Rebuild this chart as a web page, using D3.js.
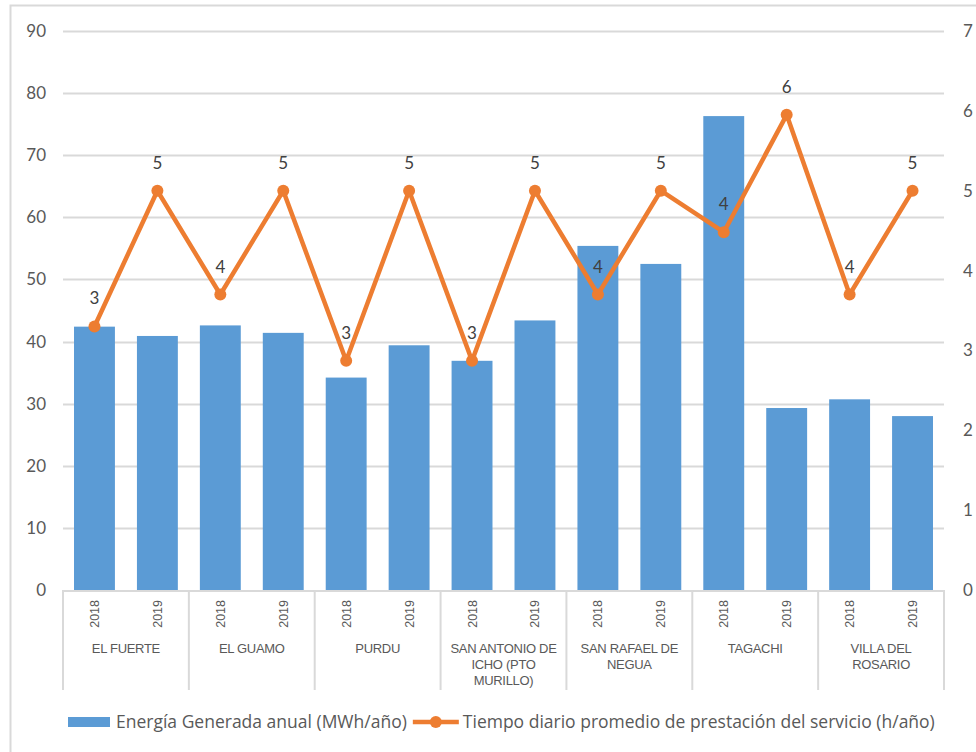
<!DOCTYPE html>
<html>
<head>
<meta charset="utf-8">
<script src="https://cdn.jsdelivr.net/npm/d3@7/dist/d3.min.js"></script>
<style>
  html, body { margin: 0; padding: 0; background: #fff; }
  svg { display: block; }
</style>
</head>
<body>
<svg id="chart" width="976" height="752"></svg>
<script>
// ---- Data ----
const groups = ["EL FUERTE", "EL GUAMO", "PURDU", "SAN ANTONIO DE ICHO (PTO MURILLO)", "SAN RAFAEL DE NEGUA", "TAGACHI", "VILLA DEL ROSARIO"];
const years = ["2018", "2019"];
const energia = [42.4, 40.9, 42.6, 41.4, 34.2, 39.4, 36.9, 43.4, 55.4, 52.5, 76.3, 29.3, 30.7, 28.0];
const tiempo = [3.3, 5.0, 3.7, 5.0, 2.87, 5.0, 2.87, 5.0, 3.7, 5.0, 4.48, 5.95, 3.7, 5.0];
const leftTicks = [0, 10, 20, 30, 40, 50, 60, 70, 80, 90];
const rightTicks = [0, 1, 2, 3, 4, 5, 6, 7];
const seriesNames = ["Energía Generada anual (MWh/año)", "Tiempo diario promedio de prestación del servicio (h/año)"];

// ---- Setup ----
const svg = d3.select("#chart");
const plot = { left: 63, right: 944, top: 31, bottom: 590 };
const BAR = "#5B9BD5", LINE = "#ED7D31", TXT = "#595959", GRID = "#D9D9D9";

const keys = [];
groups.forEach(g => years.forEach(y => keys.push(g + "|" + y)));
const rows = keys.map((k, i) => ({ key: k, group: k.split("|")[0], year: k.split("|")[1], e: energia[i], t: tiempo[i] }));

const x = d3.scaleBand().domain(keys).range([plot.left, plot.right]).paddingInner(0.35).paddingOuter(0.175);
const xg = d3.scaleBand().domain(groups).range([plot.left, plot.right]);
const yL = d3.scaleLinear().domain([0, 90]).range([plot.bottom, plot.top]);
const yR = d3.scaleLinear().domain([0, 7]).range([plot.bottom, plot.top]);

// chart border
svg.append("rect").attr("x", 10.5).attr("y", 5.5).attr("width", 1000).attr("height", 1000)
  .attr("fill", "none").attr("stroke", GRID).attr("stroke-width", 2);

// gridlines
svg.append("g").selectAll("line").data(leftTicks.filter(d => d > 0)).join("line")
  .attr("x1", plot.left).attr("x2", plot.right)
  .attr("y1", d => Math.round(yL(d)) + 0.5).attr("y2", d => Math.round(yL(d)) + 0.5)
  .attr("stroke", GRID).attr("stroke-width", 2);

// left axis labels
const axL = d3.axisLeft(yL).tickValues(leftTicks).tickSize(0).tickPadding(17).tickFormat(d3.format("d"));
const gL = svg.append("g").attr("transform", `translate(${plot.left},0)`).call(axL);
gL.select(".domain").remove();
gL.selectAll("text").attr("font-family", "Lato, 'Open Sans', sans-serif").attr("font-size", 17).attr("fill", TXT);

// right axis labels
const axR = d3.axisRight(yR).tickValues(rightTicks).tickSize(0).tickPadding(19).tickFormat(d3.format("d"));
const gR = svg.append("g").attr("transform", `translate(${plot.right},0)`).call(axR);
gR.select(".domain").remove();
gR.selectAll("text").attr("font-family", "Lato, 'Open Sans', sans-serif").attr("font-size", 17).attr("fill", TXT);

// bars
svg.append("g").selectAll("rect").data(rows).join("rect")
  .attr("x", d => x(d.key)).attr("width", x.bandwidth())
  .attr("y", d => yL(d.e)).attr("height", d => yL(0) - yL(d.e))
  .attr("fill", BAR);

// category axis
svg.append("line").attr("x1", plot.left).attr("x2", plot.right)
  .attr("y1", plot.bottom + 1).attr("y2", plot.bottom + 1).attr("stroke", GRID).attr("stroke-width", 2);
const seps = groups.map(g => xg(g)).concat([plot.right]);
svg.append("g").selectAll("line").data(seps).join("line")
  .attr("x1", d => d).attr("x2", d => d)
  .attr("y1", plot.bottom).attr("y2", 690)
  .attr("stroke", GRID).attr("stroke-width", 2);

// year labels (rotated)
svg.append("g").selectAll("text").data(rows).join("text")
  .attr("transform", d => `translate(${x(d.key) + x.bandwidth() / 2 + 4.5},${plot.bottom + 10}) rotate(-90)`)
  .attr("text-anchor", "end")
  .attr("font-family", "'Liberation Sans', Arial, sans-serif").attr("font-size", 12.5).attr("fill", TXT)
  .text(d => d.year);

// group labels with wrapping
const gl = svg.append("g").selectAll("text").data(groups).join("text")
  .attr("text-anchor", "middle")
  .attr("font-family", "'Liberation Sans', Arial, sans-serif").attr("font-size", 13).attr("fill", TXT)
  .attr("letter-spacing", -0.3)
  .attr("x", d => xg(d) + xg.bandwidth() / 2).attr("y", 653);
gl.each(function (d) {
  const t = d3.select(this);
  const words = d.split(" ");
  let line = [];
  let ts = t.append("tspan").attr("x", xg(d) + xg.bandwidth() / 2).attr("dy", 0);
  words.forEach(w => {
    line.push(w);
    ts.text(line.join(" "));
    if (ts.node().getComputedTextLength() > 118 && line.length > 1) {
      line.pop();
      ts.text(line.join(" "));
      line = [w];
      ts = t.append("tspan").attr("x", xg(d) + xg.bandwidth() / 2).attr("dy", 16).text(w);
    }
  });
});

// line
const lineGen = d3.line().x(d => x(d.key) + x.bandwidth() / 2).y(d => yR(d.t));
svg.append("path").datum(rows).attr("d", lineGen)
  .attr("fill", "none").attr("stroke", LINE).attr("stroke-width", 4.5).attr("stroke-linejoin", "round").attr("stroke-linecap", "round");
svg.append("g").selectAll("circle").data(rows).join("circle")
  .attr("cx", d => x(d.key) + x.bandwidth() / 2).attr("cy", d => yR(d.t)).attr("r", 6)
  .attr("fill", LINE);

// data labels
const fmt = d3.format(".0f");
svg.append("g").selectAll("text").data(rows).join("text")
  .attr("x", d => x(d.key) + x.bandwidth() / 2).attr("y", d => yR(d.t) - 22)
  .attr("text-anchor", "middle")
  .attr("font-family", "Lato, 'Open Sans', sans-serif").attr("font-size", 17).attr("fill", "#404040")
  .text(d => fmt(d.t));

// legend
const lg = svg.append("g").attr("font-family", "'Open Sans', Lato, sans-serif").attr("font-size", 17.5).attr("fill", TXT);
lg.append("rect").attr("x", 68).attr("y", 717).attr("width", 42).attr("height", 10).attr("fill", BAR);
const t1 = lg.append("text").attr("x", 116).attr("y", 728).text(seriesNames[0]);
const t1end = 116 + t1.node().getComputedTextLength();
const lx = t1end + 6;
lg.append("line").attr("x1", lx).attr("x2", lx + 46).attr("y1", 722).attr("y2", 722)
  .attr("stroke", LINE).attr("stroke-width", 4.5);
lg.append("circle").attr("cx", lx + 23).attr("cy", 722).attr("r", 6).attr("fill", LINE);
lg.append("text").attr("x", lx + 50).attr("y", 728).text(seriesNames[1]);
</script>
</body>
</html>
